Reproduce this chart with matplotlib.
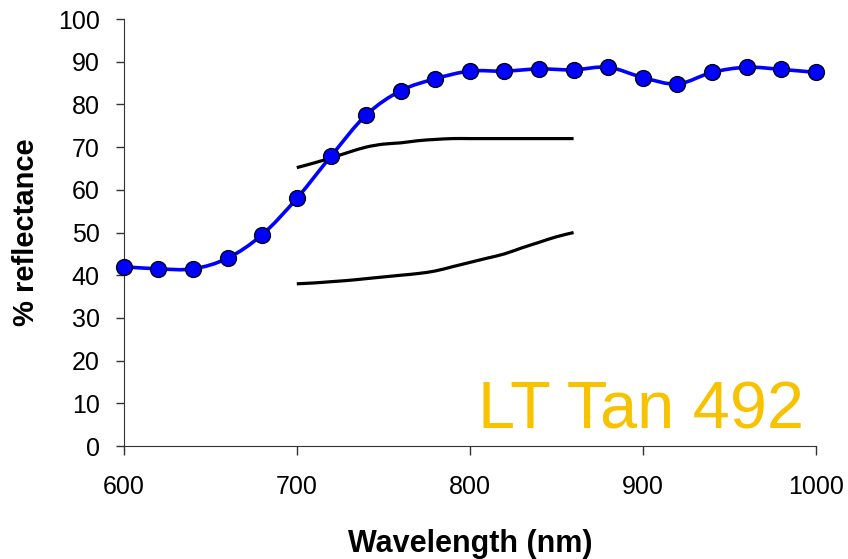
import matplotlib
matplotlib.use('Agg')
import matplotlib.pyplot as plt
import numpy as np
from matplotlib.path import Path
from matplotlib.patches import PathPatch

plt.rcParams['font.family'] = ['Liberation Sans', 'DejaVu Sans']

# blue measured curve
wl = [600, 620, 640, 660, 680, 700, 720, 740, 760, 780, 800,
      820, 840, 860, 880, 900, 920, 940, 960, 980, 1000]
refl = [42.0, 41.5, 41.5, 44.0, 49.5, 58.0, 68.0, 77.5, 83.2, 86.0, 87.8,
        87.8, 88.3, 88.1, 88.7, 86.3, 84.8, 87.5, 88.7, 88.2, 87.5]

# black envelope lines
wl_env = [700, 710, 720, 730, 740, 750, 760, 770, 780, 790, 800,
          810, 820, 830, 840, 850, 860]
upper = [65.2, 66.3, 67.5, 68.8, 70.0, 70.7, 71.0, 71.5, 71.8, 72.0, 72.0,
         72.0, 72.0, 72.0, 72.0, 72.0, 72.0]
lower = [38.0, 38.2, 38.5, 38.8, 39.2, 39.6, 40.0, 40.4, 41.0, 42.0, 43.0,
         44.0, 45.0, 46.4, 47.7, 49.0, 50.0]

label_text = 'LT Tan 492'


def smooth_path(x, y):
    # catmull-rom style bezier through the points (like Excel smoothing)
    x = np.asarray(x, float)
    y = np.asarray(y, float)
    verts = [(x[0], y[0])]
    codes = [Path.MOVETO]
    n = len(x)
    for i in range(n - 1):
        x0, y0 = (x[i - 1], y[i - 1]) if i > 0 else (x[i], y[i])
        x3, y3 = (x[i + 2], y[i + 2]) if i + 2 < n else (x[i + 1], y[i + 1])
        c1 = (x[i] + (x[i + 1] - x0) / 6, y[i] + (y[i + 1] - y0) / 6)
        c2 = (x[i + 1] - (x3 - x[i]) / 6, y[i + 1] - (y3 - y[i]) / 6)
        verts += [c1, c2, (x[i + 1], y[i + 1])]
        codes += [Path.CURVE4] * 3
    return Path(verts, codes)


fig = plt.figure(figsize=(8.48, 5.59), dpi=100)
ax = fig.add_axes([0.146, 0.202, 0.816, 0.764])

ax.add_patch(PathPatch(smooth_path(wl_env, upper), fill=False, ec='black', lw=2.3))
ax.add_patch(PathPatch(smooth_path(wl_env, lower), fill=False, ec='black', lw=2.3))
ax.add_patch(PathPatch(smooth_path(wl, refl), fill=False, ec='#0000FF', lw=2.6, zorder=3))
ax.plot(wl, refl, ls='none', marker='o', ms=11.5, mfc='#0000FF', mec='black',
        mew=0.9, zorder=4, clip_on=False)

ax.set_xlim(600, 1000)
ax.set_ylim(0, 100)
ax.set_xticks([600, 700, 800, 900, 1000])
ax.set_yticks(range(0, 101, 10))
ax.spines['top'].set_visible(False)
ax.spines['right'].set_visible(False)
ax.spines['left'].set_color('#333333')
ax.spines['bottom'].set_color('#333333')
ax.tick_params(direction='out', length=5.5, width=1, labelsize=18, colors='#333333',
               labelcolor='black')
ax.tick_params(axis='y', pad=12)
ax.tick_params(axis='x', length=6.5, pad=14)
ax.set_xlabel('Wavelength (nm)', fontsize=22, fontweight='bold', labelpad=22)
ax.set_ylabel('% reflectance', fontsize=21, fontweight='bold', labelpad=13)

ax.text(993, 4.2, label_text, ha='right', va='baseline',
        fontsize=48, color='#F7C200')

fig.savefig('out.png', dpi=100)
